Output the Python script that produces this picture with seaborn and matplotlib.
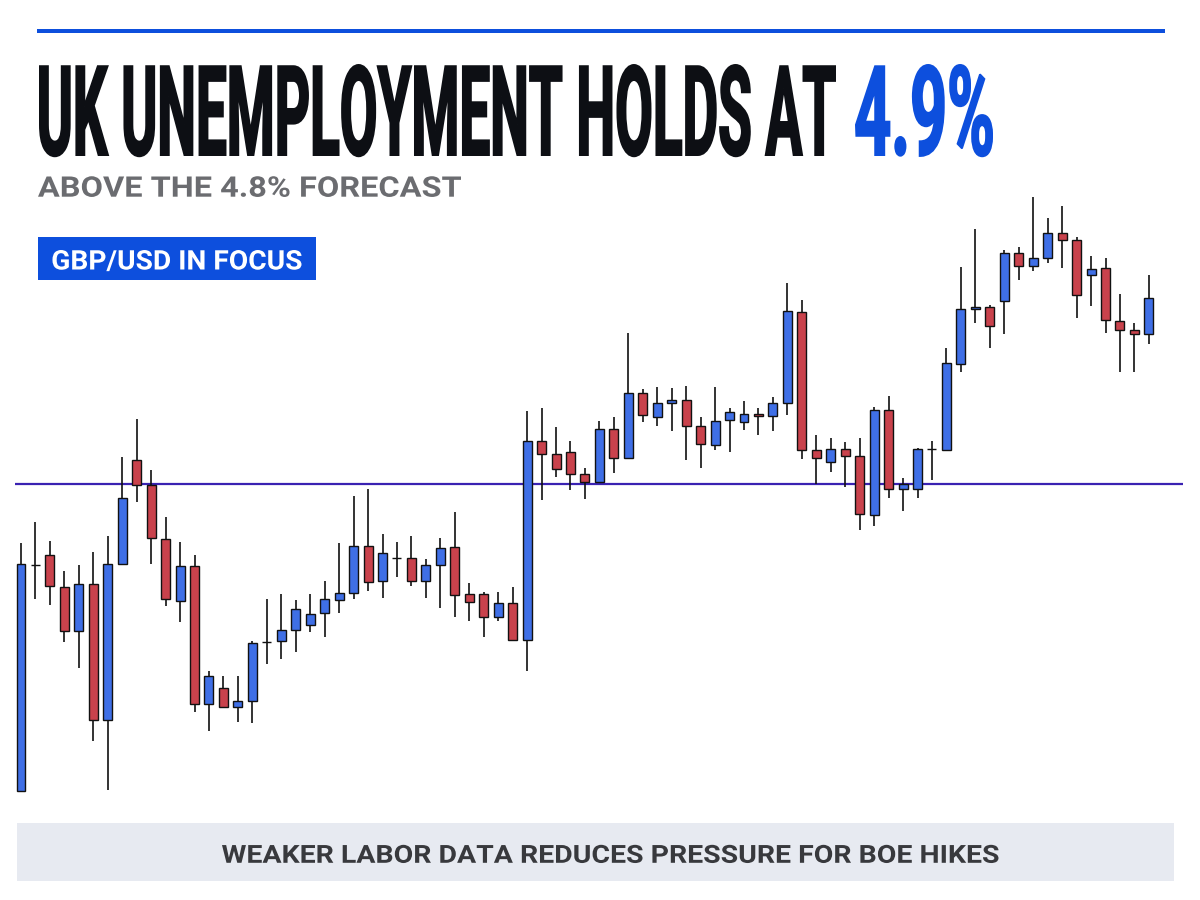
import matplotlib
matplotlib.use("Agg")
import matplotlib.pyplot as plt
from matplotlib import patheffects as pe
from matplotlib import font_manager as fm
from matplotlib.patches import Rectangle
from matplotlib.textpath import TextPath
from matplotlib.transforms import Affine2D
import numpy as np
import pandas as pd
import seaborn as sns

# GBP/USD candles, in pips relative to the 1.3400 level line
level = 1.3400
open_pips = [-307, -81, -71, -103, -147, -100, -236, -80, 24, -1,
             -55, -117, -82, -220, -204, -223, -217, -158, -157, -146,
             -141, -129, -116, -109, -62, -97, -74, -74, -97, -81,
             -63, -110, -110, -133, -119, -156, 43, 30, 32, 10,
             2, 55, 26, 91, 67, 81, 84, 58, 39, 64,
             62, 70, 68, 81, 172, 34, 22, 35, 28, -31,
             74, -5, -5, 35, 34, 120, 175, 177, 183, 231,
             218, 226, 251, 244, 209, 216, 163, 154, 150]
high_pips = [-59, -38, -57, -87, -81, -68, -52, 27, 65, 14,
             -33, -58, -71, -187, -192, -192, -157, -115, -110, -116,
             -110, -97, -59, -12, -5, -50, -58, -52, -75, -54,
             -28, -99, -108, -108, -103, 73, 76, 57, 43, 16,
             63, 67, 151, 95, 97, 96, 98, 67, 97, 76,
             83, 76, 87, 201, 184, 49, 46, 42, 46, 77,
             88, 6, 36, 43, 136, 217, 255, 179, 234, 237,
             287, 266, 278, 247, 228, 226, 190, 161, 209]
low_pips = [-307, -115, -121, -158, -184, -257, -306, -80, -18, -80,
            -122, -138, -228, -247, -223, -238, -239, -180, -175, -168,
            -148, -153, -129, -115, -107, -114, -93, -102, -114, -124,
            -133, -137, -153, -137, -156, -187, -16, 7, -6, -15,
            2, 11, 26, 62, 58, 53, 24, 16, 34, 32,
            54, 49, 53, 69, 25, 0, 12, -3, -46, -42,
            -14, -27, -14, 4, 34, 112, 161, 136, 150, 204,
            213, 221, 216, 166, 178, 151, 112, 112, 140]
close_pips = [-80, -81, -102, -147, -100, -236, -80, -14, -1, -54,
              -115, -82, -220, -192, -223, -217, -159, -158, -146, -125,
              -130, -115, -109, -62, -98, -69, -74, -97, -81, -64,
              -111, -118, -133, -119, -156, 43, 30, 15, 10, 2,
              55, 26, 91, 69, 81, 84, 58, 40, 63, 72,
              70, 68, 81, 173, 34, 26, 35, 28, -30, 74,
              -5, 0, 35, 35, 121, 175, 177, 158, 231, 218,
              226, 251, 244, 189, 215, 164, 154, 150, 186]

title_main = "UK UNEMPLOYMENT HOLDS AT"
title_value = "4.9%"
subtitle = "ABOVE THE 4.8% FORECAST"
tag = "GBP/USD IN FOCUS"
footer = "WEAKER LABOR DATA REDUCES PRESSURE FOR BOE HIKES"

BLUE = "#0d4fdd"
UP = "#3f6fe6"
DOWN = "#c9424c"
LINE = "#3a22b2"

df = pd.DataFrame({"open": open_pips, "high": high_pips,
                   "low": low_pips, "close": close_pips})
df = level + df / 10000.0
df["i"] = np.arange(len(df))
df["up"] = df["close"] >= df["open"]

sns.set_theme(style="white")
plt.rcParams["font.family"] = ["Roboto", "DejaVu Sans"]

installed = {f.name for f in fm.fontManager.ttflist}
narrow = "Liberation Sans Narrow" if "Liberation Sans Narrow" in installed else "Roboto"

W, H = 1200, 900
K = 100 / 72  # px per pt
fig = plt.figure(figsize=(W / 100, H / 100), dpi=100)
fig.patch.set_facecolor("white")


class Stretch(pe.AbstractPathEffect):
    """scale glyphs about (x0, y0) in px, optional stroke to fatten them"""

    def __init__(self, x0, y0, sx, sy, lw=0.0):
        super().__init__()
        self.x0, self.y0, self.sx, self.sy, self.lw = x0, y0, sx, sy, lw

    def draw_path(self, renderer, gc, tpath, affine, rgbFace=None):
        aff = affine + (Affine2D().translate(-self.x0, -self.y0)
                        .scale(self.sx, self.sy).translate(self.x0, self.y0))
        gc0 = renderer.new_gc()
        gc0.copy_properties(gc)
        gc0.set_linewidth(self.lw)
        if self.lw:
            gc0.set_foreground(rgbFace)
            gc0.set_joinstyle("miter")
        renderer.draw_path(gc0, tpath, aff, rgbFace)
        gc0.restore()


def put_text(s, left, right, base, cap, color, weight="bold", lw=0.0, family=None):
    # pixel coords from the top-left; font size set by the width, glyphs
    # then stretched up to the wanted cap height
    prop = fm.FontProperties(family=family or plt.rcParams["font.family"],
                             weight=weight, size=10)
    e = TextPath((0, 0), s, size=10, prop=prop).get_extents()
    pad = lw * K
    size = 10 * (right - left - pad) / ((e.x1 - e.x0) * K)
    prop.set_size(size)
    k = size / 10 * K
    sy = (cap - pad) / (e.y1 * k)
    anchor = left + pad / 2 - e.x0 * k
    yb = H - base + pad / 2
    t = fig.text(anchor / W, yb / H, s, fontproperties=prop, color=color,
                 ha="left", va="baseline")
    t.set_path_effects([Stretch(anchor, yb, 1.0, sy, lw)])
    return t


# header
fig.add_artist(Rectangle((37 / W, 1 - 33 / H), (1165 - 37) / W, 3.5 / H,
                         transform=fig.transFigure, color=BLUE, lw=0))
put_text(title_main, 39, 836, 156, 92, "#0d0f14", lw=1.3, family=narrow)
put_text(title_value, 855, 993, 156, 92, BLUE, lw=1.3, family=narrow)
put_text(subtitle, 38, 461, 196.7, 20.5, "#6b6c70")

fig.add_artist(Rectangle((38 / W, 1 - 280 / H), (316 - 38) / W, 43 / H,
                         transform=fig.transFigure, color=BLUE, lw=0))
put_text(tag, 52.5, 301.5, 269.5, 19.5, "white")

# footer banner
fig.add_artist(Rectangle((17 / W, 1 - 881 / H), (1174 - 17) / W, 58 / H,
                         transform=fig.transFigure, color="#e7eaf1", lw=0))
put_text(footer, 222, 998.5, 862.8, 18, "#38393d")

# candles
ax = fig.add_axes([15 / W, 100 / H, 1168 / W, 610 / H])
step = 14.46
ax.set_xlim(-6 / step, 1168 / step - 6 / step)
ax.set_ylim(level - 316 / 10000, level + 294 / 10000)
ax.set_axis_off()

ax.axhline(level, color=LINE, lw=1.6, zorder=1)
ax.vlines(df["i"], df["low"], df["high"], color="#111111", lw=1.2, zorder=2)
body_lo = df[["open", "close"]].min(axis=1)
body_h = (df["close"] - df["open"]).abs()
colors = np.where(df["up"], UP, DOWN)
ax.bar(df["i"], body_h, bottom=body_lo, width=0.62, color=colors,
       edgecolor="#111111", linewidth=1.0, zorder=3)

fig.savefig("out.png", dpi=100, facecolor="white")
